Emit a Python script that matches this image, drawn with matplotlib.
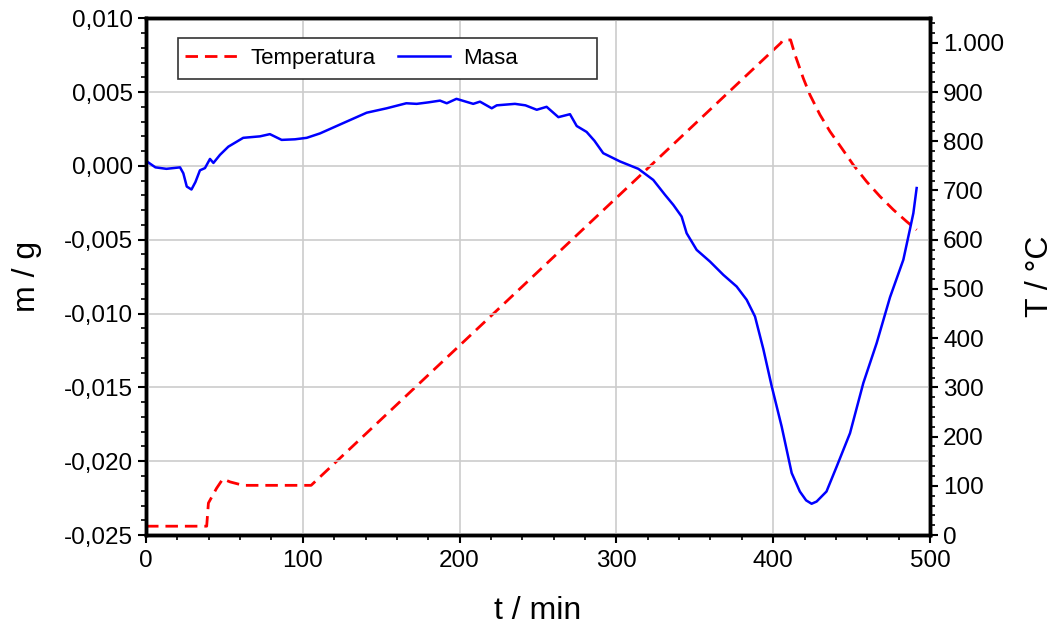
import matplotlib
matplotlib.use("Agg")
import matplotlib.pyplot as plt
from matplotlib.ticker import MultipleLocator, FuncFormatter
from matplotlib.patches import Rectangle

plt.rcParams['font.family'] = ['Liberation Sans', 'DejaVu Sans']

# masa (g) vs tiempo (min)
t_masa = [0, 6, 13, 21.7, 23.8, 26, 29, 31.5, 34.4, 37.6, 40.8, 43, 47.2, 52.5, 62, 72.7, 79,
          86.5, 95, 102.5, 111, 123.7, 140.7, 153.5, 166, 172.6, 180, 187.5, 191.8, 198, 208.7,
          213, 220.5, 223.7, 235.3, 242, 249.2, 255.5, 263, 270.4, 274.7, 281, 286, 291.6,
          302.3, 314, 323.5, 331, 336.3, 341.6, 344.8, 351.2, 359.7, 368.2, 376.7, 383.1,
          388.4, 393.7, 399, 405.4, 411.8, 417, 421, 424.5, 427.7, 434, 440.5, 449, 457.5,
          466, 474.5, 483, 487.2, 489.4, 491.5]
masa = [0.00034, -0.0001, -0.0002, -0.0001, -0.0005, -0.0014, -0.0016, -0.0011, -0.0003,
        -0.00015, 0.00047, 0.0002, 0.00075, 0.0013, 0.0019, 0.002, 0.00215,
        0.00176, 0.0018, 0.0019, 0.0022, 0.0028, 0.0036, 0.0039, 0.00424, 0.0042, 0.0043,
        0.00442, 0.00424, 0.00454, 0.0042, 0.00435, 0.0039, 0.0041, 0.0042, 0.0041, 0.0038,
        0.004, 0.0033, 0.0035, 0.0027, 0.0023, 0.0017, 0.00086, 0.0003, -0.0002, -0.00095,
        -0.00196, -0.00264, -0.00343, -0.00456, -0.00569, -0.00648, -0.00738, -0.00817,
        -0.00907, -0.0102, -0.0124, -0.0149, -0.01765, -0.0208, -0.02205, -0.02265,
        -0.02288, -0.02273, -0.02205, -0.02036, -0.0181, -0.0147, -0.012, -0.0089,
        -0.00636, -0.0043, -0.0032, -0.0015]

# temperatura (°C) vs tiempo (min)
t_temp = [0, 38.7, 39.8, 45, 49, 53.6, 62, 105.3, 405, 406, 411.1, 413.9, 419.2, 423.5,
          429.8, 436.2, 443.7, 451.1, 459.6, 468.1, 476.6, 485.1, 491.5]
temp = [18, 18, 65, 95, 114, 108, 101, 101, 1000, 1005, 1006, 976, 928, 894,
        854, 820, 786, 752, 718, 688, 661, 637, 620]

fig = plt.figure(figsize=(10.58, 6.28), dpi=100)
ax = fig.add_axes([0.138, 0.148, 0.741, 0.823])
ax2 = ax.twinx()

ax.set_zorder(ax2.get_zorder() + 1)
ax.patch.set_visible(False)

l1, = ax2.plot(t_temp, temp, color='#ff0000', lw=2, ls=(0, (4.5, 2.5)), label='Temperatura')
l2, = ax.plot(t_masa, masa, color='#0000ff', lw=1.8, label='Masa')

ax.set_xlim(0, 500)
ax.set_ylim(-0.025, 0.010)
ax2.set_ylim(0, 1050)

ax.xaxis.set_major_locator(MultipleLocator(100))
ax.xaxis.set_minor_locator(MultipleLocator(20))
ax.yaxis.set_major_locator(MultipleLocator(0.005))
ax.yaxis.set_minor_locator(MultipleLocator(0.001))
ax2.yaxis.set_major_locator(MultipleLocator(100))
ax2.yaxis.set_minor_locator(MultipleLocator(20))

ax.yaxis.set_major_formatter(FuncFormatter(lambda v, p: f"{v:.3f}".replace('.', ',').replace('-0,000', '0,000')))
ax2.yaxis.set_major_formatter(FuncFormatter(lambda v, p: f"{int(round(v)):,}".replace(',', '.')))

ax.grid(True, which='major', color='#cccccc', lw=1.2)
ax.set_axisbelow(True)

for a in (ax, ax2):
    for s in a.spines.values():
        s.set_linewidth(2.5)
    a.tick_params(which='major', direction='out', length=6, width=1.5, labelsize=17.5)
    a.tick_params(which='minor', direction='out', length=3.5, width=1.2)
ax.tick_params(axis='x', pad=5)

ax.set_xlabel('t / min', fontsize=23)
ax.set_ylabel('m / g', fontsize=23)
ax2.set_ylabel('T / °C', fontsize=23)
ax.xaxis.set_label_coords(0.5, -0.118)
ax.yaxis.set_label_coords(-0.133, 0.5)
ax2.yaxis.set_label_coords(1.121, 0.5)

# legend with a fixed-size frame
ax.add_patch(Rectangle((0.0408, 0.882), 0.534, 0.0793, transform=ax.transAxes,
                       facecolor='white', edgecolor='#333333', lw=1.2, zorder=5))
leg = ax.legend(handles=[l1, l2], loc='center left', ncol=2, fontsize=16,
                bbox_to_anchor=(0.0497, 0.9225), frameon=False, borderpad=0,
                borderaxespad=0, handlelength=2.35, handletextpad=0.6,
                columnspacing=1.0)
leg.set_zorder(6)

fig.savefig('out.png', dpi=100)
